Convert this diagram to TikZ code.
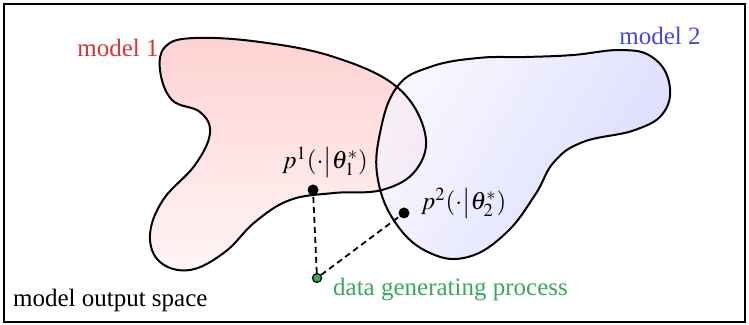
\documentclass[tikz,border=0pt]{standalone}
\usepackage{mathptmx}
\usepackage{fontspec}
\setmainfont{Liberation Serif}
\usetikzlibrary{positioning,calc}
\definecolor{modelred}{RGB}{215,55,55}
\definecolor{modelblue}{RGB}{70,70,225}
\definecolor{dgpgreen}{RGB}{55,170,90}
\tikzset{
	dot/.style = {
		circle,
		fill = black,
		inner sep = 0pt,
		minimum size = 5.5pt
	}
}

\begin{document}
\begin{tikzpicture}[
x = 0.5pt, y = -0.5pt,
node distance = 0mm,
every node/.style = {
	font = \fontsize{12.5}{14}\selectfont
},
blob/.style = {
	draw,
	line width = 1pt
},
link/.style = {
	dash pattern = on 3pt off 2pt,
	line width = 0.9pt
}
]

\useasboundingbox (0,0) rectangle (749,325);
\draw[line width=1.2pt] (4,4) rectangle (745,322);

% model 1 region
\shade[top color=red!22, bottom color=red!5, opacity=0.8]
	plot[smooth cycle, tension=0.65] coordinates {(166,46) (195,38) (260,42) (334,57) (397,87) (425,133) (416,170) (382,190) (334,193) (290,200) (255,222) (225,252) (190,270) (160,262) (150,235) (163,200) (195,165) (210,133) (200,112) (172,100) (160,70)};
% model 2 region
\shade[left color=blue!4, right color=blue!20, shading angle=60, opacity=0.7]
	plot[smooth cycle, tension=0.7] coordinates {(397,87) (430,67) (478,58) (526,57) (573,55) (621,50) (652,57) (669,82) (664,112) (635,130) (583,142) (554,162) (535,195) (506,233) (468,257) (430,253) (397,225) (378,180) (380,133)};

\draw[blob] plot[smooth cycle, tension=0.65] coordinates {(166,46) (195,38) (260,42) (334,57) (397,87) (425,133) (416,170) (382,190) (334,193) (290,200) (255,222) (225,252) (190,270) (160,262) (150,235) (163,200) (195,165) (210,133) (200,112) (172,100) (160,70)};
\draw[blob] plot[smooth cycle, tension=0.7] coordinates {(397,87) (430,67) (478,58) (526,57) (573,55) (621,50) (652,57) (669,82) (664,112) (635,130) (583,142) (554,162) (535,195) (506,233) (468,257) (430,253) (397,225) (378,180) (380,133)};

\node (model1) [text=modelred] at (118,48) {model 1};
\node (model2) [text=modelblue] at (660,36) {model 2};
\node (space) [anchor=west] at (6,300) {model output space};

\node (p1) [dot] at (313,190) {};
\node (p2) [dot] at (404,213) {};
\node (dgp) [dot, fill=dgpgreen, draw=black, line width=0.6pt, minimum size=4.5pt] at (317,278) {};

\node (p1label) [above=0pt of p1, xshift=6pt] {$p^{1}(\cdot\big|\theta^{*}_{1})$};
\node (p2label) [right=2pt of p2, yshift=5pt] {$p^{2}(\cdot\big|\theta^{*}_{2})$};
\node (dgplabel) [text=dgpgreen, right=2pt of dgp, yshift=-6pt] {data generating process};

\draw[link] (dgp) -- (p1);
\draw[link] (dgp) -- (p2);

\end{tikzpicture}
\end{document}
